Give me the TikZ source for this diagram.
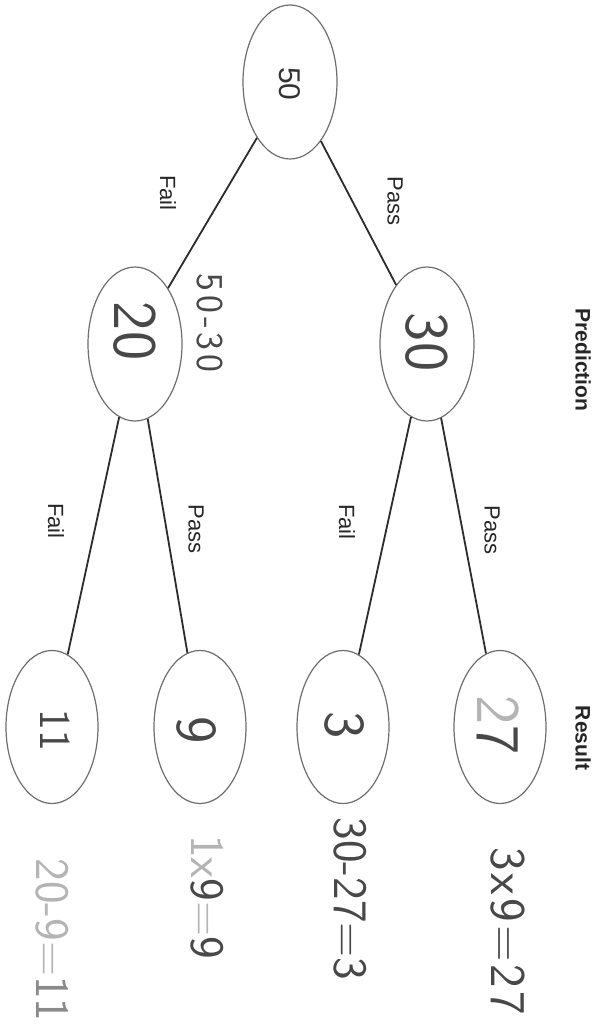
\documentclass[tikz,border=0pt]{standalone}
\usepackage{fontspec}
\setmainfont{Liberation Sans}
\usetikzlibrary{shapes.geometric}

\definecolor{ink}{HTML}{484848}
\definecolor{faint}{HTML}{B4B4B4}
\definecolor{midgray}{HTML}{8A8A8A}
\definecolor{rim}{HTML}{6E6E6E}
\definecolor{wire}{HTML}{2C2C2C}

\newcommand{\fs}[1]{\fontsize{#1}{#1}\selectfont}

\tikzset{
  bubble/.style={draw=rim, line width=1.2pt, ellipse, inner sep=0pt,
                 minimum width=94pt, minimum height=154pt},
  leaf/.style={bubble, minimum width=92pt, minimum height=153pt},
  branch/.style={draw=wire, line width=1.8pt},
  tag/.style={rotate=-90, inner sep=0pt, text=black!85, font=\fs{22}},
  head/.style={rotate=-90, inner sep=0pt, text=black!85, font=\bfseries\fs{21}},
  typed/.style={rotate=-90, inner sep=0pt, text=black!80, font=\fs{30}},
  hand/.style={rotate=-90, inner sep=0pt, text=ink, font=\sffamily\fs{#1}},
  hand/.default=48,
}

\begin{document}
\begin{tikzpicture}[x=1pt, y=-1pt]
  \fill[white] (0,0) rectangle (597,1035);
  \useasboundingbox (0,0) rectangle (597,1035);

  % tree nodes
  \node[bubble] (n50) at (290,82) {};
  \node[bubble] (n20) at (135,344) {};
  \node[bubble] (n30) at (427,344) {};
  \node[leaf] (n11) at (52,727) {};
  \node[leaf] (n9)  at (200,727) {};
  \node[leaf] (n3)  at (343,727) {};
  \node[leaf] (n27) at (500,727) {};

  % branches
  \draw[branch] (n50) -- (n20);
  \draw[branch] (n50) -- (n30);
  \draw[branch] (n20) -- (n11);
  \draw[branch] (n20) -- (n9);
  \draw[branch] (n30) -- (n3);
  \draw[branch] (n30) -- (n27);

  % branch labels
  \node[tag] (f1) at (168,193) {Fail};
  \node[tag] (p1) at (395,201) {Pass};
  \node[tag] (f2) at (56,521) {Fail};
  \node[tag] (p2) at (196,529) {Pass};
  \node[tag] (f3) at (347,522) {Fail};
  \node[tag] (p3) at (492,530) {Pass};

  % row headings
  \node[head] (hpred) at (583,360) {Prediction};
  \node[head] (hres)  at (583,738) {Result};

  % node values
  \node[typed] (v50) at (290,84) {50};
  \node[hand=62] (v20) at (135,331) {20};
  \node[hand=62] (v30) at (427,342) {30};
  \node[hand=44] (v11) at (55,730) {11};
  \node[hand=58] (v9)  at (197,730) {9};
  \node[hand=58] (v3)  at (345,725) {3};
  \node[hand=62] (v27) at (498,725) {\textcolor{faint}{2}7};

  % working written beside the nodes
  \node[hand=38] (w50) at (210,323) {5\kern4pt0\kern4pt-\kern4pt3\kern4pt0};
  \node[hand=50] (w27) at (508,931) {3\kern3pt x\kern3pt9\kern3pt=\kern3pt2\kern3pt7};
  \node[hand=48] (w3)  at (350,899) {30-27=3};
  \node[hand=48] (w9)  at (207,897) {\textcolor{faint}{1x}9\textcolor{faint}{=}9};
  \node[hand=48] (w11) at (52,940) {\textcolor{faint}{20-9=}\textcolor{midgray}{11}};
\end{tikzpicture}
\end{document}
